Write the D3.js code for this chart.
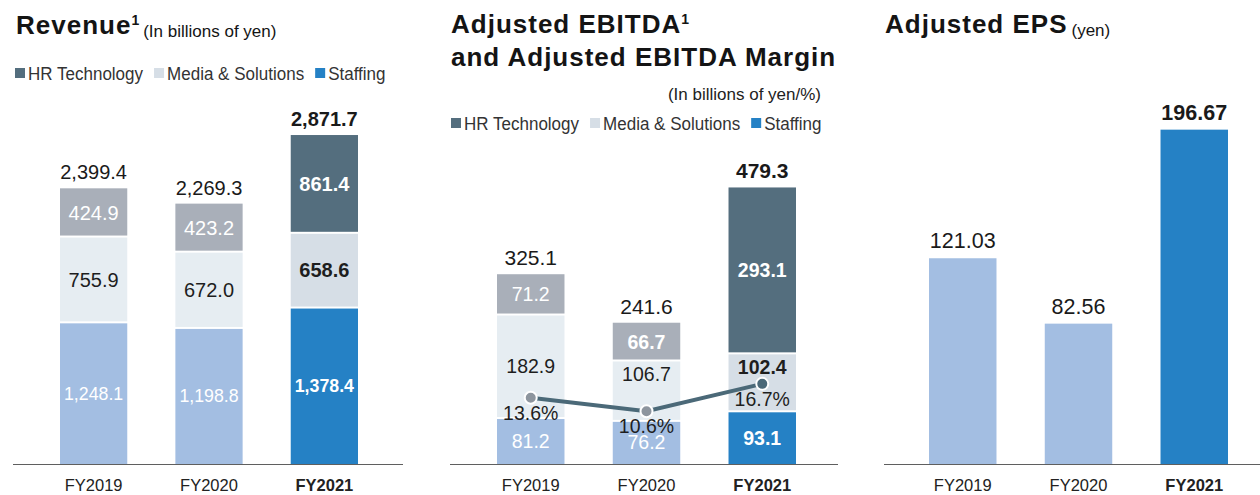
<!DOCTYPE html>
<html>
<head>
<meta charset="utf-8">
<script src="https://cdn.jsdelivr.net/npm/d3@7"></script>
<style>
  body { margin: 0; background: #ffffff; }
  svg { display: block; }
</style>
</head>
<body>
<svg id="chart" width="1260" height="495"></svg>
<script>
// ---- data ---------------------------------------------------------------
const years = ["FY2019", "FY2020", "FY2021"];
const segments = ["Staffing", "Media & Solutions", "HR Technology"];      // stacked bottom -> top
const legendKeys = ["HR Technology", "Media & Solutions", "Staffing"];

// Revenue (billions of yen)
const revenueStaffing = [1248.1, 1198.8, 1378.4];
const revenueMedia    = [755.9, 672.0, 658.6];
const revenueHR       = [424.9, 423.2, 861.4];
const revenueTotal    = [2399.4, 2269.3, 2871.7];

// Adjusted EBITDA (billions of yen) and margin (%)
const ebitdaStaffing = [81.2, 76.2, 93.1];
const ebitdaMedia    = [182.9, 106.7, 102.4];
const ebitdaHR       = [71.2, 66.7, 293.1];
const ebitdaTotal    = [325.1, 241.6, 479.3];
const ebitdaMargin   = [13.6, 10.6, 16.7];

// Adjusted EPS (yen)
const adjustedEps = [121.03, 82.56, 196.67];

// ---- styling ------------------------------------------------------------
const FONT = "'Liberation Sans', Arial, Helvetica, sans-serif";
const baseY = 464;
const palette = {
  prior:   { "HR Technology": "#a9afb9", "Media & Solutions": "#e6edf2", "Staffing": "#a3bee2" },
  current: { "HR Technology": "#546e7e", "Media & Solutions": "#d6dee6", "Staffing": "#2581c5" }
};
const legendColor = palette.current;
const labelInk = { "HR Technology": "#ffffff", "Media & Solutions": "#1e1e1e", "Staffing": "#ffffff" };
const latest = years[years.length - 1];
const shadeFor = yr => yr === latest ? palette.current : palette.prior;

const svg = d3.select("#chart").attr("font-family", FONT);

function bandScale(x0, x1) {
  return d3.scaleBand().domain(years).range([x0, x1]).paddingInner(0.417).paddingOuter(0);
}

function drawAxis(g, x, lineFrom, lineTo) {
  g.append("line")
    .attr("x1", lineFrom).attr("x2", lineTo)
    .attr("y1", baseY + 0.5).attr("y2", baseY + 0.5)
    .attr("stroke", "#5f5f5f").attr("stroke-width", 1.2);
  const ax = g.append("g")
    .attr("transform", `translate(0,${baseY})`)
    .call(d3.axisBottom(x).tickSize(0).tickPadding(15));
  ax.select(".domain").remove();
  ax.selectAll("text")
    .attr("font-family", FONT)
    .attr("font-size", 16.5)
    .attr("fill", "#222")
    .attr("font-weight", d => d === latest ? "bold" : "normal");
}

// legend type is set slightly condensed
function drawLegend(g, x0, baseline) {
  const squeeze = 0.92;
  let cx = x0;
  legendKeys.forEach(key => {
    g.append("rect")
      .attr("x", cx).attr("y", baseline - 12)
      .attr("width", 10).attr("height", 10)
      .attr("fill", legendColor[key]);
    const t = g.append("text")
      .attr("transform", `translate(${cx + 13},${baseline}) scale(${squeeze},1)`)
      .attr("font-size", 18.5).attr("fill", "#333")
      .text(key);
    cx += 13 + t.node().getComputedTextLength() * squeeze + 11;
  });
}

function drawTitle(g, x, baseline, main, sup, note) {
  const t = g.append("text")
    .attr("x", x).attr("y", baseline)
    .attr("fill", "#141414");
  t.append("tspan")
    .attr("font-size", 26).attr("font-weight", "bold").attr("letter-spacing", 1)
    .text(main);
  if (sup) {
    t.append("tspan")
      .attr("font-size", 14).attr("font-weight", "bold").attr("dy", -9)
      .text(sup);
  }
  if (note) {
    t.append("tspan")
      .attr("font-size", 17).attr("font-weight", "normal")
      .attr("dy", sup ? 12 : 3).attr("dx", 4)
      .text(note);
  }
  return t;
}

// Stacked bars with segment labels and totals above
function drawStack(g, x, y, table, totals, fmt, opts) {
  const stacked = d3.stack().keys(segments)(table);
  const bw = x.bandwidth();
  const last = segments.length - 1;

  stacked.forEach((series, k) => {
    const key = series.key;
    const topGap = k < last ? 1 : 0;
    const botGap = k > 0 ? 1 : 0;
    g.selectAll(null).data(series).join("rect")
      .attr("x", d => x(d.data.year))
      .attr("width", bw)
      .attr("y", d => y(d[1]) + topGap)
      .attr("height", d => y(d[0]) - y(d[1]) - topGap - botGap)
      .attr("fill", d => shadeFor(d.data.year)[key]);
  });

  const labels = g.append("g");
  stacked.forEach(series => {
    const key = series.key;
    labels.selectAll(null).data(series).join("text")
      .attr("x", d => x(d.data.year) + bw / 2)
      .attr("y", d => opts.labelY ? opts.labelY(key, d) : (y(d[0]) + y(d[1])) / 2)
      .attr("dy", "0.36em")
      .attr("text-anchor", "middle")
      .attr("font-size", opts.segSize)
      .attr("fill", labelInk[key])
      .attr("font-weight", d => opts.bold(key, d.data.year) ? "bold" : "normal")
      .text(d => fmt(d.data[key]))
      .each(function () {
        // shrink long labels so they stay inside the bar
        const w = this.getComputedTextLength();
        const room = bw - 8;
        if (w > room) d3.select(this).attr("font-size", opts.segSize * room / w);
      });
  });

  const tops = stacked[last];
  labels.selectAll(null).data(tops).join("text")
    .attr("x", d => x(d.data.year) + bw / 2)
    .attr("y", d => y(d[1]) - 9)
    .attr("text-anchor", "middle")
    .attr("font-size", opts.totalSize)
    .attr("fill", "#1a1a1a")
    .attr("font-weight", d => d.data.year === latest ? "bold" : "normal")
    .text((d, i) => fmt(totals[i]));
}

function buildTable(staffing, media, hr) {
  return years.map((yr, i) => ({
    year: yr,
    "Staffing": staffing[i],
    "Media & Solutions": media[i],
    "HR Technology": hr[i]
  }));
}

// ---- Revenue ------------------------------------------------------------
{
  const g = svg.append("g");
  drawTitle(g, 16, 34, "Revenue", "1", "(In billions of yen)");
  drawLegend(g, 15, 80);
  const x = bandScale(60, 358);
  const y = d3.scaleLinear().domain([0, 3000]).range([baseY, baseY - 340.5]);
  drawStack(g, x, y, buildTable(revenueStaffing, revenueMedia, revenueHR), revenueTotal,
    d3.format(",.1f"), {
      segSize: 20, totalSize: 20,
      bold: (key, yr) => yr === latest
    });
  drawAxis(g, x, 13, 403);
}

// ---- Adjusted EBITDA & margin -------------------------------------------
{
  const g = svg.append("g");
  drawTitle(g, 451, 33, "Adjusted EBITDA", "1", null);
  drawTitle(g, 451, 66, "and Adjusted EBITDA Margin", null, null);
  g.append("text")
    .attr("x", 821).attr("y", 100)
    .attr("text-anchor", "end")
    .attr("font-size", 17).attr("fill", "#222")
    .text("(In billions of yen/%)");
  drawLegend(g, 451, 130);

  const x = bandScale(497, 796);
  const y = d3.scaleLinear().domain([0, 500]).range([baseY, baseY - 283]);
  const yMargin = d3.scaleLinear().domain([0, 20]).range([459, 369]);
  const bw = x.bandwidth();

  drawStack(g, x, y, buildTable(ebitdaStaffing, ebitdaMedia, ebitdaHR), ebitdaTotal,
    d3.format(".1f"), {
      segSize: 19.5, totalSize: 21,
      bold: (key, yr) => yr === latest || (key === "HR Technology" && yr === "FY2020"),
      // short Media segments keep their label near the top, clear of the margin line
      labelY: (key, d) => {
        const top = y(d[1]), bottom = y(d[0]);
        if (key === "Media & Solutions" && bottom - top < 80) return top + 14;
        return (top + bottom) / 2;
      }
    });

  const pts = ebitdaMargin.map((m, i) => ({ year: years[i], m }));
  const line = d3.line()
    .x(d => x(d.year) + bw / 2)
    .y(d => yMargin(d.m));
  g.append("path")
    .datum(pts)
    .attr("d", line)
    .attr("fill", "none")
    .attr("stroke", "#4b6978")
    .attr("stroke-width", 4);
  g.selectAll(null).data(pts).join("circle")
    .attr("cx", d => x(d.year) + bw / 2)
    .attr("cy", d => yMargin(d.m))
    .attr("r", 6)
    .attr("fill", d => d.year === latest ? "#4b6978" : "#8d959e")
    .attr("stroke", "#ffffff")
    .attr("stroke-width", 2);
  g.selectAll(null).data(pts).join("text")
    .attr("x", d => x(d.year) + bw / 2)
    .attr("y", d => yMargin(d.m) + 22)
    .attr("text-anchor", "middle")
    .attr("font-size", 19.5)
    .attr("fill", "#1e1e1e")
    .text(d => d3.format(".1f")(d.m) + "%");

  drawAxis(g, x, 450, 838);
}

// ---- Adjusted EPS -------------------------------------------------------
{
  const g = svg.append("g");
  drawTitle(g, 885, 33, "Adjusted EPS", null, "(yen)");
  const x = bandScale(929, 1228);
  const y = d3.scaleLinear().domain([0, 200]).range([baseY, baseY - 340]);
  const pts = adjustedEps.map((v, i) => ({ year: years[i], v }));
  g.selectAll(null).data(pts).join("rect")
    .attr("x", d => x(d.year))
    .attr("width", x.bandwidth())
    .attr("y", d => y(d.v))
    .attr("height", d => y(0) - y(d.v))
    .attr("fill", d => d.year === latest ? palette.current["Staffing"] : palette.prior["Staffing"]);
  g.selectAll(null).data(pts).join("text")
    .attr("x", d => x(d.year) + x.bandwidth() / 2)
    .attr("y", d => y(d.v) - 10)
    .attr("text-anchor", "middle")
    .attr("font-size", 21.5)
    .attr("fill", "#1a1a1a")
    .attr("font-weight", d => d.year === latest ? "bold" : "normal")
    .text(d => d3.format(".2f")(d.v));
  drawAxis(g, x, 884, 1260);
}
</script>
</body>
</html>
